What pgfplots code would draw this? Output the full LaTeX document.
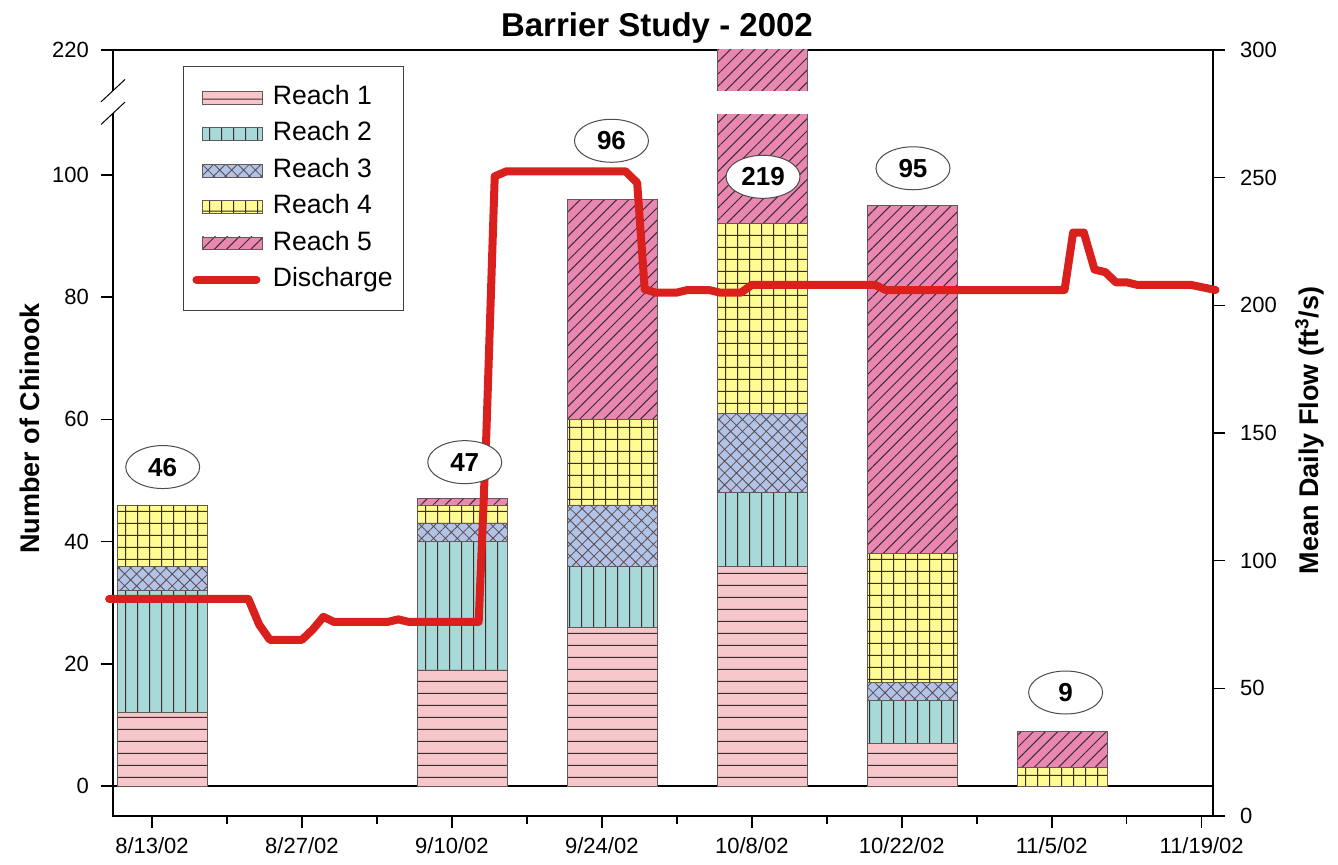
\documentclass[border=0pt]{standalone}
\usepackage{fontspec}
\setmainfont{Liberation Sans}
\usepackage{pgfplots}
\pgfplotsset{compat=1.18}
\usetikzlibrary{patterns,patterns.meta,shapes.geometric}

\definecolor{rA}{RGB}{247,198,203}
\definecolor{rB}{RGB}{166,217,216}
\definecolor{rC}{RGB}{178,195,232}
\definecolor{rD}{RGB}{255,250,145}
\definecolor{rE}{RGB}{234,134,178}
\definecolor{flow}{RGB}{218,32,28}
\definecolor{hatch}{RGB}{60,45,45}

% plain line patterns with the stroke in the middle of the tile
\pgfdeclarepatternformonly{hlinesw}{\pgfpoint{0pt}{0pt}}{\pgfpoint{6pt}{5.85pt}}{\pgfpoint{6pt}{5.85pt}}%
  {\pgfsetlinewidth{0.5pt}\pgfpathmoveto{\pgfpoint{-0.5pt}{2.9pt}}\pgfpathlineto{\pgfpoint{6.5pt}{2.9pt}}\pgfusepath{stroke}}
\pgfdeclarepatternformonly{vlinesw}{\pgfpoint{0pt}{0pt}}{\pgfpoint{6pt}{6pt}}{\pgfpoint{6pt}{6pt}}%
  {\pgfsetlinewidth{0.5pt}\pgfpathmoveto{\pgfpoint{3pt}{-0.5pt}}\pgfpathlineto{\pgfpoint{3pt}{6.5pt}}\pgfusepath{stroke}}
\pgfdeclarepatternformonly{gridw}{\pgfpoint{0pt}{0pt}}{\pgfpoint{6pt}{6pt}}{\pgfpoint{6pt}{6pt}}%
  {\pgfsetlinewidth{0.5pt}\pgfpathmoveto{\pgfpoint{-0.5pt}{3pt}}\pgfpathlineto{\pgfpoint{6.5pt}{3pt}}%
   \pgfpathmoveto{\pgfpoint{3pt}{-0.5pt}}\pgfpathlineto{\pgfpoint{3pt}{6.5pt}}\pgfusepath{stroke}}

\pgfplotsset{
  reachA/.style={fill=rA, draw=hatch!80, line width=0.4pt,
    postaction={pattern=hlinesw, pattern color=hatch}},
  reachB/.style={fill=rB, draw=hatch!80, line width=0.4pt,
    postaction={pattern=vlinesw, pattern color=hatch}},
  reachC/.style={fill=rC, draw=hatch!80, line width=0.4pt,
    postaction={pattern={Hatch[angle=45,distance=4.2pt,line width=0.4pt]}, pattern color=hatch!85}},
  reachD/.style={fill=rD, draw=hatch!80, line width=0.4pt,
    postaction={pattern=gridw, pattern color=hatch}},
  reachE/.style={fill=rE, draw=hatch!80, line width=0.4pt,
    postaction={pattern={Lines[angle=45,distance=4.3pt,line width=0.5pt]}, pattern color=hatch}},
  swatch/.style={legend image code/.code={\draw[##1] (0pt,-3.2pt) rectangle (30pt,3.2pt);}},
  flowswatch/.style={legend image code/.code={\draw[##1] (-3pt,0pt) -- (27pt,0pt);}},
  base/.style={
    scale only axis, width=550pt, height=383pt,
    xmin=-3.64, xmax=99.06,
    tick align=outside,
    axis line style={line width=0.8pt},
    major tick style={line width=0.8pt, black},
    minor tick style={line width=0.8pt, black},
    major tick length=6pt, minor tick length=4pt,
    tick label style={font=\fontsize{11}{13}\selectfont},
    label style={font=\fontsize{13.5}{16}\selectfont\bfseries},
    /pgf/number format/assume math mode=true,
  },
}

\begin{document}
\begin{tikzpicture}
\begin{axis}[base,
  ymin=-4.91, ymax=120.46,
  ybar stacked, bar width=8.4,
  xtick={0,14,...,98},
  xticklabels={8/13/02,8/27/02,9/10/02,9/24/02,10/8/02,10/22/02,11/5/02,11/19/02},
  minor xtick={7,21,...,91},
  ytick={0,20,40,60,80,100,120.46},
  yticklabels={0,20,40,60,80,100,220},
  xtick pos=left, ytick pos=left,
  xticklabel style={yshift=-1pt},
  yticklabel style={xshift=-2.5pt},
  ylabel={Number of Chinook},
  ylabel style={at={(axis description cs:-0.0755,0.506)}, anchor=center, rotate=0},
  title={Barrier Study - 2002},
  title style={at={(axis description cs:0.4945,1)}, anchor=base, yshift=0.5pt,
    font=\fontsize{16.5}{19}\selectfont\bfseries},
]
\addplot[reachA] coordinates {(1,12) (29,19) (43,26) (57,36) (71,7) (85,0)};
\addplot[reachB] coordinates {(1,20) (29,21) (43,10) (57,12) (71,7) (85,0)};
\addplot[reachC] coordinates {(1,4) (29,3) (43,10) (57,13) (71,3) (85,0)};
\addplot[reachD] coordinates {(1,10) (29,3) (43,14) (57,31) (71,21) (85,3)};
\addplot[reachE] coordinates {(1,0) (29,1) (43,36) (57,127) (71,57) (85,6)};
\draw[line width=0.7pt] (axis cs:-3.64,0) -- (axis cs:99.06,0);
\coordinate (gapA) at (axis cs:52.3,110.0);
\coordinate (gapB) at (axis cs:61.7,113.7);
\coordinate (bkHi) at (axis cs:-3.64,113.8);
\coordinate (bkLo) at (axis cs:-3.64,110.1);
\coordinate (t1) at (axis cs:1,52.2);
\coordinate (t2) at (axis cs:29.2,53.0);
\coordinate (t3) at (axis cs:42.9,105.6);
\coordinate (t4) at (axis cs:57.05,99.7);
\coordinate (t5) at (axis cs:71.05,101.1);
\coordinate (t6) at (axis cs:85.3,15.3);
\end{axis}

\begin{axis}[base,
  ymin=0, ymax=300,
  axis x line=none, axis y line*=right,
  ytick={0,50,...,300},
  yticklabel style={xshift=4pt},
  clip=false,
  ylabel={Mean Daily Flow (ft\textsuperscript{3}/s)},
  ylabel style={at={(axis description cs:1.088,0.503)}, anchor=center, rotate=0},
  legend cell align=left,
  legend style={at={(0.0636,0.9791)}, anchor=north west,
    draw=black!75, line width=0.5pt, inner xsep=4.5pt, inner ysep=8.5pt,
    row sep=4pt, column sep=4pt, font=\fontsize{13.3}{15}\selectfont,
    nodes={inner sep=1pt, text height=9.5pt, text depth=2.7pt}},
]
\addlegendimage{reachA, swatch}\addlegendentry{Reach 1}
\addlegendimage{reachB, swatch}\addlegendentry{Reach 2}
\addlegendimage{reachC, swatch}\addlegendentry{Reach 3}
\addlegendimage{reachD, swatch}\addlegendentry{Reach 4}
\addlegendimage{reachE, swatch}\addlegendentry{Reach 5}
\addplot[flow, line width=4pt, line cap=round, line join=round, flowswatch] coordinates {
  (-4.0,85) (9,85) (10,75) (11,69) (14,69) (15,73) (16,78) (17,76) (22,76) (23,77) (24,76)
  (30.5,76) (31.2,147.5) (32,250.5) (33.1,252.5) (44.2,252.5) (45.3,248) (46,206.3)
  (47,205) (49,205) (50,206) (52,206) (53,205) (55,205) (56,208) (67.5,208) (68.5,206)
  (85.2,206) (86,228.5) (87,228.5) (88,214) (89,213) (90,209) (91,209) (92,208) (97,208) (99.3,206)
};
\addlegendentry{Discharge}
\end{axis}

% axis break
\fill[white] (gapA) rectangle (gapB);
\fill[white] ([xshift=-1.5pt]bkLo) rectangle ([xshift=1.5pt]bkHi);
\draw[line width=0.5pt] ([shift={(-6pt,-5.6pt)}]bkHi) -- ([shift={(6pt,5.6pt)}]bkHi);
\draw[line width=0.5pt] ([shift={(-6pt,-5.6pt)}]bkLo) -- ([shift={(6pt,5.6pt)}]bkLo);

\tikzset{tot/.style={ellipse, draw=black!70, line width=0.5pt, fill=white,
  minimum width=37pt, minimum height=21.5pt, inner sep=0pt,
  font=\fontsize{13}{15}\selectfont\bfseries}}
\node[tot] at (t1) {46};
\node[tot] at (t2) {47};
\node[tot] at (t3) {96};
\node[tot] at (t4) {219};
\node[tot] at (t5) {95};
\node[tot] at (t6) {9};

\pgfresetboundingbox
\path (-56.5pt,-24.5pt) rectangle (612.5pt,408pt);
\end{tikzpicture}
\end{document}
